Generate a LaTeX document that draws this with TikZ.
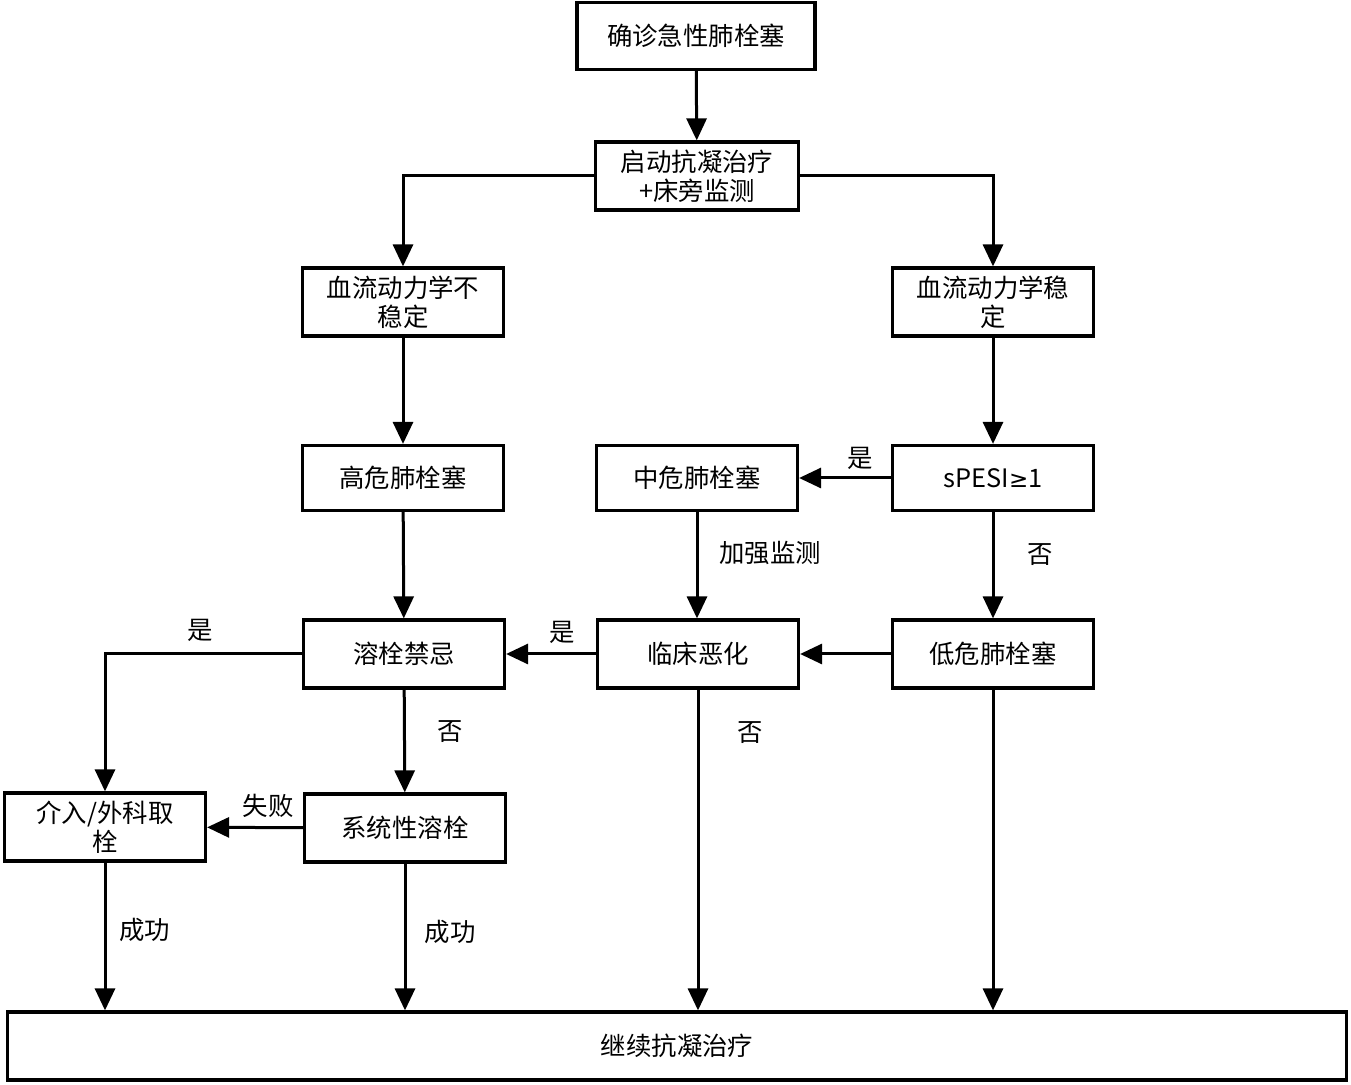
\documentclass[tikz,border=0pt]{standalone}
\usepackage{fontspec}
\setmainfont{Noto Sans CJK SC}
\newfontfamily\symfont{DejaVu Sans}
\usetikzlibrary{arrows.meta}
\begin{document}
\begin{tikzpicture}[x=0.5pt,y=-0.5pt,
  box/.style={draw=black,line width=1.6pt,fill=white,align=center,inner sep=0pt,
    minimum width=100.5pt,minimum height=34pt,font=\fontsize{12.7}{14.5}\selectfont},
  arr/.style={line width=1.5pt,-{Triangle[length=11pt,width=10pt]}},
  lbl/.style={font=\fontsize{12.7}{14.5}\selectfont,inner sep=0pt}]
\useasboundingbox (0,0) rectangle (1351,1085);
\node[box,minimum width=119pt,minimum height=33.5pt] (b1) at (696,36) {确诊急性肺栓塞};
\node[box,minimum width=101.5pt] (b2) at (697,176) {启动抗凝治疗\\+床旁监测};
\node[box] (b3) at (403,302) {血流动力学不\\稳定};
\node[box] (b4) at (993,302) {血流动力学稳\\定};
\node[box,minimum height=32.5pt] (b5) at (403,478) {高危肺栓塞};
\node[box,minimum height=32.5pt] (b6) at (697,478) {中危肺栓塞};
\node[box,minimum height=32.5pt] (b7) at (993,478) {sPESI{\symfont\fontsize{11.5}{14}\selectfont ≥}1};
\node[box] (b8) at (404,654) {溶栓禁忌};
\node[box] (b9) at (698,654) {临床恶化};
\node[box] (b10) at (993,654) {低危肺栓塞};
\node[box] (b11) at (105,827) {介入/外科取\\栓};
\node[box] (b12) at (405,828) {系统性溶栓};
\node[box,minimum width=669.5pt] (b13) at (677,1046) {继续抗凝治疗};
\draw[arr] (b1) -- (b2);
\draw[arr] (b2.west) -| (b3.north);
\draw[arr] (b2.east) -| (b4.north);
\draw[arr] (b3) -- (b5);
\draw[arr] (b4) -- (b7);
\draw[arr] (b7) -- (b6);
\draw[arr] (b7) -- (b10);
\draw[arr] (b6.south) -- (b6.south |- b9.north);
\draw[arr] (b5) -- (b8);
\draw[arr] (b10) -- (b9);
\draw[arr] (b9) -- (b8);
\draw[arr] (b8.west) -| (b11.north);
\draw[arr] (b8) -- (b12);
\draw[arr] (b12) -- (b11);
\draw[arr] (b11.south) -- (b11.south |- b13.north);
\draw[arr] (b12.south) -- (b12.south |- b13.north);
\draw[arr] (b9.south) -- (b9.south |- b13.north);
\draw[arr] (b10.south) -- (b10.south |- b13.north);
\node[lbl] (l1) at (860,458) {是};
\node[lbl] (l2) at (1040,555) {否};
\node[lbl] (l3) at (770,553) {加强监测};
\node[lbl] (l4) at (562,632) {是};
\node[lbl] (l5) at (200,630) {是};
\node[lbl] (l6) at (450,732) {否};
\node[lbl] (l7) at (750,733) {否};
\node[lbl] (l8) at (268,806) {失败};
\node[lbl] (l9) at (145,930) {成功};
\node[lbl] (l10) at (450,932) {成功};
\end{tikzpicture}
\end{document}
